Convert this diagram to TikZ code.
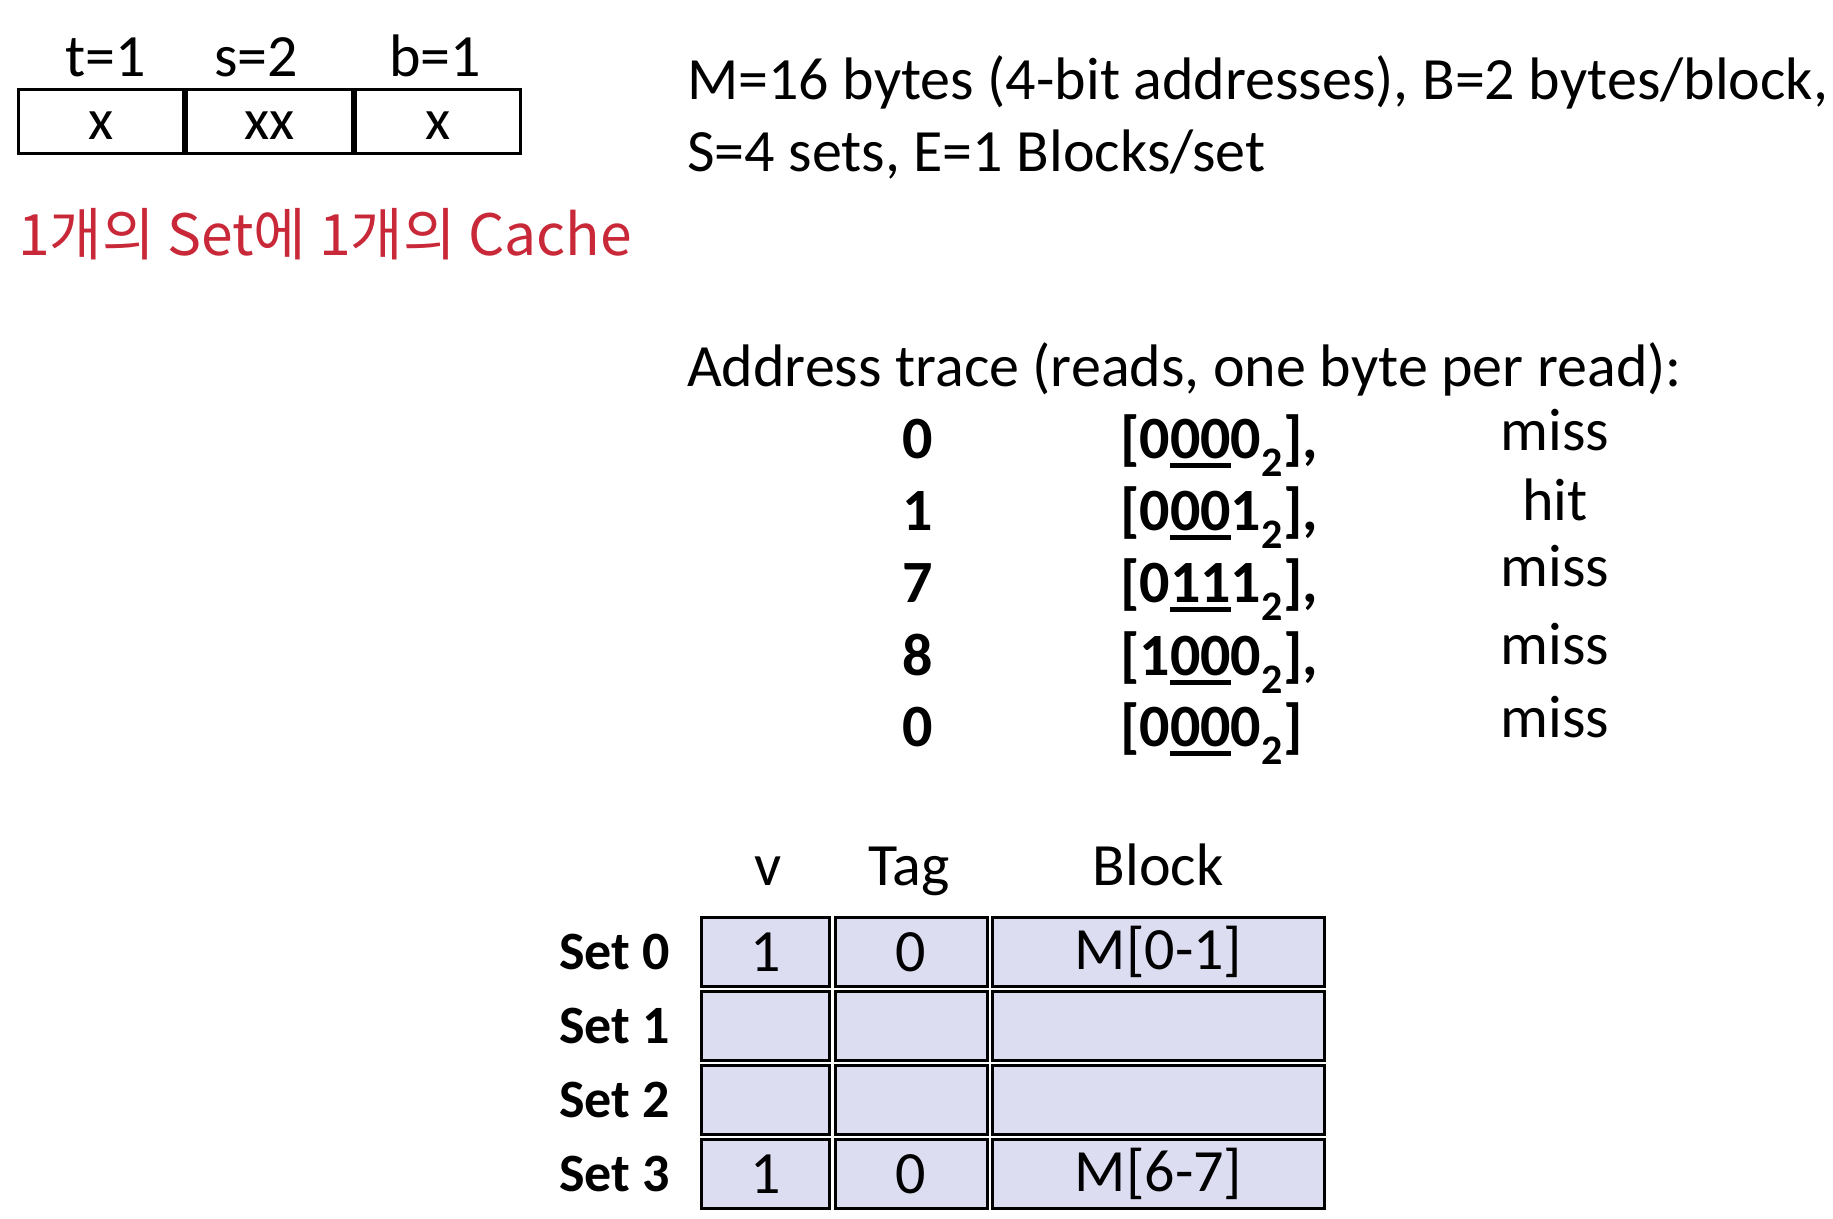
\documentclass[tikz,border=0pt]{standalone}
\usepackage{fontspec}
\setmainfont{Carlito}
\newfontfamily\krfont{Noto Sans CJK KR}
\definecolor{cellfill}{RGB}{221,221,242}
\definecolor{inkred}{RGB}{200,40,55}
\newsavebox{\ulbox}
\newcommand{\ul}[1]{\sbox{\ulbox}{#1}\rlap{\raisebox{-0.16em}{\rule{\wd\ulbox}{0.07em}}}\usebox{\ulbox}}
\begin{document}
\begin{tikzpicture}[x=1pt,y=-1pt,
  txt/.style={inner sep=0pt,font=\fontsize{60}{72}\selectfont},
  btxt/.style={inner sep=0pt,font=\fontsize{60}{72}\selectfont\bfseries},
  setlab/.style={inner sep=0pt,font=\fontsize{54}{64}\selectfont\bfseries},
  fieldbox/.style={draw,line width=3pt,inner sep=0pt,text height=37pt,text depth=0pt,font=\fontsize{58}{70}\selectfont},
  cachecell/.style={draw,line width=3pt,fill=cellfill,inner sep=0pt,font=\fontsize{60}{72}\selectfont}]
\useasboundingbox (0,0) rectangle (1833,1218);
% address fields
\node[fieldbox,minimum width=165pt,minimum height=64pt] (ft) at (101,121) {x};
\node[fieldbox,minimum width=166pt,minimum height=64pt] (fs) at (269.5,121) {xx};
\node[fieldbox,minimum width=165pt,minimum height=64pt] (fb) at (438,121) {x};
\node[txt,anchor=base] (lt) at (106,76) {t=1};
\node[txt,anchor=base] (ls) at (256,76) {s=2};
\node[txt,anchor=base] (lb) at (435,76) {b=1};
% handwritten note
\node[inner sep=0pt,text=inkred,font=\fontsize{57}{68}\selectfont\krfont,anchor=west] (note) at (18,234) {1개의 Set에 1개의 Cache};
% parameters
\node[txt,anchor=base west] (p1) at (687,99) {M=16 bytes (4-bit addresses), B=2 bytes/block,};
\node[txt,anchor=base west] (p2) at (687,171) {S=4 sets, E=1 Blocks/set};
\node[txt,anchor=base west] (tr) at (687,386) {Address trace (reads, one byte per read):};
% trace rows
\node[btxt,anchor=base] (a1) at (918,458) {0};
\node[btxt,anchor=base] (a2) at (918,530) {1};
\node[btxt,anchor=base] (a3) at (918,602) {7};
\node[btxt,anchor=base] (a4) at (918,675) {8};
\node[btxt,anchor=base] (a5) at (918,746) {0};
\node[btxt,anchor=base west] (b1) at (1120,458) {[0\ul{00}0\textsubscript{2}],};
\node[btxt,anchor=base west] (b2) at (1120,530) {[0\ul{00}1\textsubscript{2}],};
\node[btxt,anchor=base west] (b3) at (1120,602) {[0\ul{11}1\textsubscript{2}],};
\node[btxt,anchor=base west] (b4) at (1120,675) {[1\ul{00}0\textsubscript{2}],};
\node[btxt,anchor=base west] (b5) at (1120,746) {[0\ul{00}0\textsubscript{2}]};
\node[txt,anchor=base] (r1) at (1555,450) {miss};
\node[txt,anchor=base] (r2) at (1555,520) {hit};
\node[txt,anchor=base] (r3) at (1555,586) {miss};
\node[txt,anchor=base] (r4) at (1555,664) {miss};
\node[txt,anchor=base] (r5) at (1555,737) {miss};
% cache table header
\node[txt,anchor=base] (hv) at (768,885) {v};
\node[txt,anchor=base] (ht) at (909,885) {Tag};
\node[txt,anchor=base] (hb) at (1158,885) {Block};
% cache rows
\foreach \r/\y/\v/\t/\b in {0/952/1/0/{M[0-1]},1/1026///,2/1100///,3/1174/1/0/{M[6-7]}}{
  \node[setlab,anchor=east] (set\r) at (670,\y) {Set \r};
  \node[cachecell,minimum width=128pt,minimum height=69pt] (v\r) at (765.5,\y) {\v};
  \node[cachecell,minimum width=152pt,minimum height=69pt] (t\r) at (911,\y) {\t};
  \node[cachecell,minimum width=332pt,minimum height=69pt] (b\r) at (1158.5,\y) {\b};
}
\end{tikzpicture}
\end{document}
